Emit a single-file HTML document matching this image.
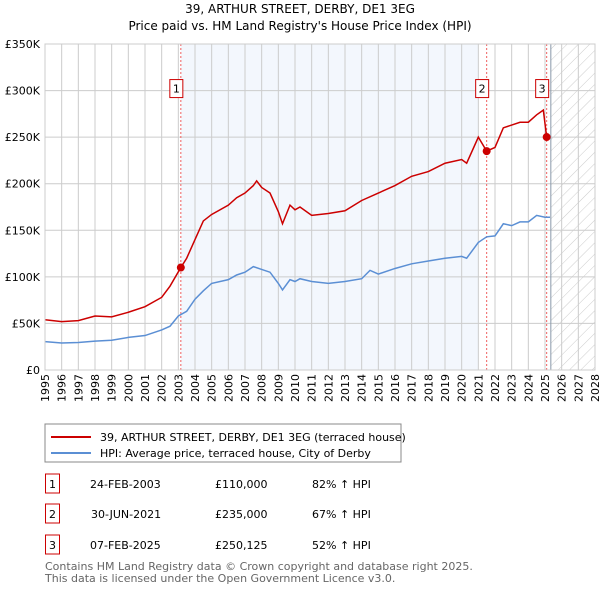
<!DOCTYPE html>
<html><head><meta charset="utf-8"><style>
body{margin:0;background:#fff;font-family:"Liberation Sans","DejaVu Sans",sans-serif;}
svg text{font-family:"DejaVu Sans","Liberation Sans",sans-serif;}
</style></head><body>
<svg id="c" width="600" height="590" xmlns="http://www.w3.org/2000/svg">
<defs><pattern id="hatch" width="8" height="8" patternUnits="userSpaceOnUse" patternTransform="rotate(45)"><line x1="0" y1="0" x2="0" y2="8" stroke="#ccc" stroke-width="1"/></pattern></defs>
<text x="300" y="13" font-size="12" text-anchor="middle">39, ARTHUR STREET, DERBY, DE1 3EG</text>
<text x="300" y="30" font-size="12" text-anchor="middle">Price paid vs. HM Land Registry's House Price Index (HPI)</text>
<g id="plot"></g>
<rect x="45" y="424" width="356" height="38" fill="#fff" stroke="#888"/>
<line x1="51" y1="437" x2="91" y2="437" stroke="#cc0000" stroke-width="2"/>
<text x="100" y="441" font-size="11">39, ARTHUR STREET, DERBY, DE1 3EG (terraced house)</text>
<line x1="51" y1="453" x2="91" y2="453" stroke="#5b8fd4" stroke-width="2"/>
<text x="100" y="457" font-size="11">HPI: Average price, terraced house, City of Derby</text>
<g font-size="11">
<rect x="45.5" y="474" width="14" height="19" fill="none" stroke="#cc0000"/><text x="52.5" y="488" text-anchor="middle">1</text>
<text x="90" y="488">24-FEB-2003</text><text x="215" y="488">£110,000</text><text x="312" y="488">82% ↑ HPI</text>
<rect x="45.5" y="504" width="14" height="19" fill="none" stroke="#cc0000"/><text x="52.5" y="518" text-anchor="middle">2</text>
<text x="91" y="518">30-JUN-2021</text><text x="215" y="518">£235,000</text><text x="312" y="518">67% ↑ HPI</text>
<rect x="45.5" y="535" width="14" height="19" fill="none" stroke="#cc0000"/><text x="52.5" y="549" text-anchor="middle">3</text>
<text x="90" y="549">07-FEB-2025</text><text x="215" y="549">£250,125</text><text x="312" y="549">52% ↑ HPI</text>
</g>
<text x="45" y="570" font-size="11" fill="#666">Contains HM Land Registry data © Crown copyright and database right 2025.</text>
<text x="45" y="582" font-size="11" fill="#666">This data is licensed under the Open Government Licence v3.0.</text>
</svg>
<script>
const hpiYears=[1995,1996,1997,1998,1999,2000,2001,2002,2002.5,2003,2003.5,2004,2004.5,2005,2006,2006.5,2007,2007.5,2008,2008.5,2009,2009.25,2009.7,2010,2010.3,2011,2012,2013,2014,2014.5,2015,2016,2017,2018,2019,2020,2020.3,2021,2021.5,2022,2022.5,2023,2023.5,2024,2024.5,2025,2025.3];
const hpiValues=[30.4,29,29.5,31,32,35,37,43,47,58,63,76,85,93,97,102,105,111,108,105,93,86,97,95,98,95,93,95,98,107,103,109,114,117,120,122,120,137,143,144,157,155,159,159,166,164,164];
const redYears=[1995,1996,1997,1998,1999,2000,2001,2002,2002.5,2003.15,2003.5,2004,2004.5,2005,2006,2006.5,2007,2007.5,2007.7,2008,2008.5,2009,2009.25,2009.7,2010,2010.3,2011,2012,2013,2014,2015,2016,2017,2018,2019,2020,2020.3,2021,2021.5,2022,2022.5,2023,2023.5,2024,2024.5,2024.9,2025.1];
const redValues=[54,52,53,58,57,62,68,78,90,110,120,140,160,167,177,185,190,198,203,196,190,170,157,177,172,175,166,168,171,182,190,198,208,213,222,226,222,250,235,239,260,263,266,266,274,279,250];
const saleYears=[2003.15,2021.5,2025.1];
const saleValues=[110,235,250.125];
const saleLabels=["1","2","3"];
const yTicks=[0,50,100,150,200,250,300,350];
const yTickLabels=["£0","£50K","£100K","£150K","£200K","£250K","£300K","£350K"];
const xTicks=[1995,1996,1997,1998,1999,2000,2001,2002,2003,2004,2005,2006,2007,2008,2009,2010,2011,2012,2013,2014,2015,2016,2017,2018,2019,2020,2021,2022,2023,2024,2025,2026,2027,2028];
const X0=45,X1=595,Y0=370,Y1=44;
const xs=y=>X0+(y-1995)/33*(X1-X0);
const ys=v=>Y0-v/350*(Y0-Y1);
const NS="http://www.w3.org/2000/svg";
const g=document.getElementById('plot');
function mk(t,a){const e=document.createElementNS(NS,t);for(const k in a)e.setAttribute(k,a[k]);g.appendChild(e);return e;}
let e=mk('rect',{x:xs(2003.15),y:Y1,width:xs(2021.0)-xs(2003.15),height:Y0-Y1,fill:'#eef3fc',opacity:0.7});


e=mk('rect',{x:xs(2025.35),y:Y1,width:X1-xs(2025.35),height:Y0-Y1,fill:'url(#hatch)'});


xTicks.forEach(t=>{const l=mk('line',{x1:xs(t),x2:xs(t),y1:Y1,y2:Y0,stroke:'#ccc'});


const tx=mk('text',{x:0,y:0,'font-size':11,transform:`translate(${xs(t)+4},${Y0+4}) rotate(-90)`,'text-anchor':'end'});tx.textContent=t;

});
yTicks.forEach((t,i)=>{const l=mk('line',{x1:X0,x2:X1,y1:ys(t),y2:ys(t),stroke:'#ccc'});


const tx=mk('text',{x:X0-5,y:ys(t)+4,'font-size':11,'text-anchor':'end'});tx.textContent=yTickLabels[i];

});
e=mk('line',{x1:xs(2025.35),x2:xs(2025.35),y1:Y1,y2:Y0,stroke:'#8899aa'});


saleYears.forEach((s,i)=>{const l=mk('line',{x1:xs(s),x2:xs(s),y1:Y1,y2:Y0,stroke:'#f06060','stroke-dasharray':'2,2'});

});
const hp=mk('polyline',{points:hpiYears.map((y,i)=>xs(y)+','+ys(hpiValues[i])).join(' '),fill:'none',stroke:'#5b8fd4','stroke-width':1.5});


const rp=mk('polyline',{points:redYears.map((y,i)=>xs(y)+','+ys(redValues[i])).join(' '),fill:'none',stroke:'#cc0000','stroke-width':1.5});


saleYears.forEach((s,i)=>{const c=mk('circle',{cx:xs(s),cy:ys(saleValues[i]),r:4,fill:'#cc0000'});


const bx=mk('rect',{x:xs(s)-11,y:ys(300)-11,width:13,height:18,fill:'#fff',stroke:'#cc0000'});


const tx=mk('text',{x:xs(s)-4.5,y:ys(300)+2,'font-size':11,'text-anchor':'middle'});tx.textContent=saleLabels[i];

});
e=mk('rect',{x:X0,y:Y1,width:X1-X0,height:Y0-Y1,fill:'none',stroke:'#ccc'});


</script>
</body></html>
